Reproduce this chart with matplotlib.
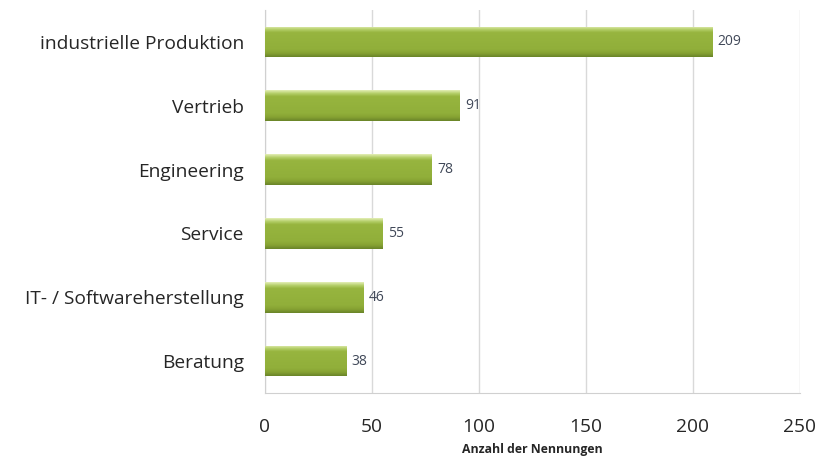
import matplotlib
matplotlib.use("Agg")
import matplotlib.pyplot as plt
import numpy as np
from matplotlib.colors import LinearSegmentedColormap

categories = ["industrielle Produktion", "Vertrieb", "Engineering", "Service",
              "IT- / Softwareherstellung", "Beratung"]
values = [209, 91, 78, 55, 46, 38]
xticks = [0, 50, 100, 150, 200, 250]

plt.rcParams['font.family'] = ['Open Sans', 'DejaVu Sans']

fig = plt.figure(figsize=(8.35, 4.57), dpi=100)
ax = fig.add_axes([0.317, 0.14, 0.641, 0.838])

ypos = np.arange(len(categories))[::-1]
bars = ax.barh(ypos, values, height=0.48, color='#93b13c', edgecolor='none', zorder=2)

cmap = LinearSegmentedColormap.from_list(
    'g', [(0.0, '#6a8529'), (0.12, '#86a233'), (0.25, '#91af3a'),
          (0.8, '#97b53f'), (0.9, '#b5cf6a'), (1.0, '#e2edb4')])
grad = np.linspace(0, 1, 64).reshape(-1, 1)
for b in bars:
    x0, y0 = b.get_x(), b.get_y()
    w, h = b.get_width(), b.get_height()
    im = ax.imshow(grad, cmap=cmap, aspect='auto', origin='lower',
                   extent=[x0, x0 + w, y0, y0 + h], zorder=3)
    im.set_clip_path(b)
    ax.text(x0 + w + 2.5, y0 + h / 2, str(int(w)), va='center', ha='left',
            fontsize=10, color='#404858', zorder=4)

ax.set_xlim(0, 250)
ax.set_ylim(-0.5, len(categories) - 0.5)
ax.set_xticks(xticks)
ax.set_yticks(ypos)
ax.set_yticklabels(categories)
ax.tick_params(axis='y', length=0, pad=15, labelsize=13.8, labelcolor='#262626')
ax.tick_params(axis='x', length=0, pad=18, labelsize=13.8, labelcolor='#262626')
ax.xaxis.grid(True, color='#d9d9d9', linewidth=1, zorder=0)
ax.set_axisbelow(True)
for s in ['top', 'right']:
    ax.spines[s].set_visible(False)
for s in ['left', 'bottom']:
    ax.spines[s].set_color('#d0d0d0')
ax.set_xlabel("Anzahl der Nennungen", fontsize=8.8, fontweight='bold', color='#262626', labelpad=5)

fig.savefig("out.png", dpi=100)
